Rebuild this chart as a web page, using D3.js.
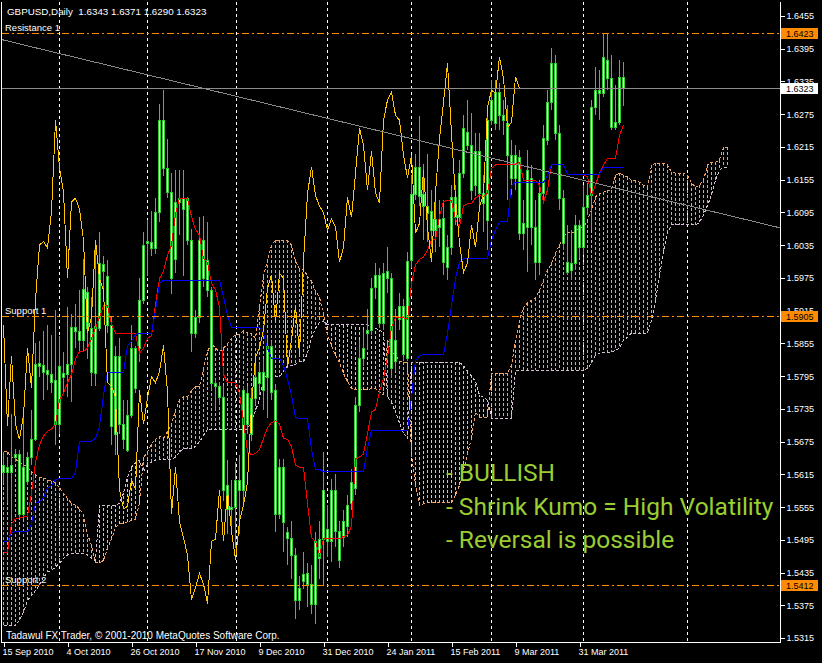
<!DOCTYPE html>
<html><head><meta charset="utf-8">
<script src="https://cdn.jsdelivr.net/npm/d3@7"></script>
<style>html,body{margin:0;padding:0;background:#000;overflow:hidden}</style>
</head><body>
<svg id="c" width="822" height="663"></svg>
<script>
// ---------------- DATA (GBPUSD Daily) ----------------
const openP=[1.5619,1.5628,1.5619,1.5646,1.5653,1.5542,1.5603,1.5646,1.5679,1.5814,
1.5816,1.5806,1.5798,1.5787,1.5707,1.5800,1.5798,1.5817,1.5885,1.5878,
1.5862,1.5950,1.5883,1.5800,1.5883,1.6001,1.5978,1.5889,1.5689,1.5832,
1.5707,1.5660,1.5723,1.5846,1.5846,1.5935,1.6039,1.6041,1.6030,1.6096,
1.6264,1.6177,1.6133,1.6010,1.6114,1.6121,1.6121,1.6044,1.5874,1.5903,
1.6044,1.6007,1.5953,1.5783,1.5776,1.5757,1.5596,1.5552,1.5556,1.5605,
1.5587,1.5764,1.5689,1.5755,1.5803,1.5769,1.5794,1.5851,1.5769,1.5542,
1.5628,1.5510,1.5499,1.5467,1.5385,1.5419,1.5435,1.5414,1.5378,1.5462,
1.5496,1.5514,1.5492,1.5586,1.5511,1.5501,1.5520,1.5563,1.5590,1.5742,
1.5829,1.5874,1.5879,1.5959,1.5981,1.5893,1.5988,1.5974,1.5822,1.5899,
1.5924,1.5829,1.6008,1.6129,1.6179,1.6129,1.6107,1.6097,1.6063,1.6083,
1.6084,1.5995,1.6031,1.6123,1.6086,1.6167,1.6242,1.6218,1.6145,1.6207,
1.6131,1.6081,1.6264,1.6258,1.6315,1.6273,1.6258,1.6200,1.6158,1.6196,
1.6057,1.6068,1.6158,1.6068,1.6004,1.6130,1.6227,1.6297,1.6368,1.6240,
1.6121,1.6004,1.5989,1.6002,1.6072,1.6031,1.6105,1.6127,1.6288,1.6319,
1.6313,1.6374,1.6341,1.6251,1.6260,1.6343];
const highP=[1.5656,1.5646,1.5726,1.5662,1.5660,1.5726,1.5656,1.5732,1.5855,1.5859,
1.5878,1.5889,1.5870,1.5917,1.5868,1.5840,1.5921,1.5908,1.5927,1.5953,
1.6010,1.5959,1.5940,1.6041,1.6060,1.6016,1.6007,1.5903,1.5851,1.5864,
1.5751,1.5751,1.5889,1.5851,1.5974,1.6060,1.6082,1.6098,1.6121,1.6294,
1.6319,1.6230,1.6167,1.6173,1.6173,1.6173,1.6124,1.6064,1.5916,1.6087,
1.6088,1.6078,1.5959,1.5789,1.5785,1.5776,1.5641,1.5605,1.5637,1.5651,
1.5776,1.5776,1.5769,1.5814,1.5817,1.5826,1.5864,1.5859,1.5780,1.5643,
1.5643,1.5518,1.5530,1.5480,1.5428,1.5473,1.5453,1.5448,1.5510,1.5530,
1.5656,1.5558,1.5606,1.5615,1.5529,1.5549,1.5577,1.5624,1.5756,1.5861,
1.5879,1.5918,1.5974,1.6003,1.5993,1.6003,1.6031,1.5984,1.5918,1.5947,
1.5936,1.6022,1.6164,1.6202,1.6272,1.6183,1.6202,1.6136,1.6126,1.6117,
1.6117,1.6053,1.6145,1.6145,1.6191,1.6273,1.6301,1.6277,1.6240,1.6240,
1.6164,1.6282,1.6337,1.6337,1.6332,1.6301,1.6292,1.6227,1.6218,1.6209,
1.6117,1.6209,1.6182,1.6117,1.6154,1.6255,1.6319,1.6396,1.6383,1.6255,
1.6136,1.6072,1.6062,1.6090,1.6081,1.6145,1.6149,1.6301,1.6361,1.6356,
1.6423,1.6423,1.6383,1.6328,1.6374,1.6371];
const lowP=[1.5599,1.5562,1.5530,1.5637,1.5537,1.5533,1.5596,1.5632,1.5676,1.5794,
1.5751,1.5769,1.5764,1.5669,1.5689,1.5764,1.5757,1.5747,1.5846,1.5840,
1.5840,1.5826,1.5776,1.5776,1.5878,1.5953,1.5874,1.5669,1.5651,1.5689,
1.5662,1.5656,1.5719,1.5764,1.5821,1.5927,1.5978,1.6016,1.6019,1.6078,
1.6162,1.6121,1.5946,1.5984,1.6053,1.5978,1.6035,1.5840,1.5864,1.5893,
1.5959,1.5940,1.5769,1.5732,1.5742,1.5567,1.5505,1.5510,1.5480,1.5505,
1.5562,1.5689,1.5676,1.5742,1.5760,1.5732,1.5719,1.5751,1.5510,1.5533,
1.5473,1.5448,1.5423,1.5349,1.5367,1.5405,1.5372,1.5359,1.5340,1.5423,
1.5410,1.5463,1.5454,1.5482,1.5444,1.5482,1.5501,1.5549,1.5577,1.5729,
1.5813,1.5842,1.5870,1.5936,1.5884,1.5879,1.5947,1.5791,1.5804,1.5879,
1.5823,1.5823,1.5993,1.6117,1.6107,1.6045,1.6041,1.6031,1.6022,1.6031,
1.5980,1.5971,1.6017,1.6072,1.6077,1.6158,1.6209,1.6117,1.6126,1.6107,
1.6060,1.6026,1.6255,1.6246,1.6246,1.6236,1.6117,1.6127,1.6136,1.6044,
1.6026,1.5985,1.6035,1.5971,1.5980,1.6117,1.6218,1.6282,1.6227,1.6099,
1.6026,1.5980,1.5971,1.5989,1.6011,1.6017,1.6090,1.6062,1.6273,1.6264,
1.6306,1.6319,1.6246,1.6246,1.6255,1.6290];
const closeP=[1.5632,1.5619,1.5632,1.5653,1.5542,1.5628,1.5646,1.5679,1.5817,1.5819,
1.5803,1.5798,1.5785,1.5707,1.5814,1.5794,1.5817,1.5885,1.5878,1.5862,
1.5955,1.5883,1.5802,1.5887,1.6003,1.5987,1.5889,1.5703,1.5832,1.5707,
1.5679,1.5723,1.5846,1.5774,1.5935,1.6035,1.6042,1.6030,1.6096,1.6264,
1.6177,1.6133,1.5974,1.6114,1.6121,1.6101,1.6044,1.5874,1.5903,1.6044,
1.5974,1.5953,1.5783,1.5776,1.5757,1.5587,1.5552,1.5556,1.5605,1.5587,
1.5769,1.5707,1.5755,1.5794,1.5783,1.5803,1.5851,1.5766,1.5542,1.5628,
1.5528,1.5499,1.5467,1.5385,1.5407,1.5433,1.5414,1.5378,1.5492,1.5496,
1.5587,1.5492,1.5586,1.5511,1.5458,1.5529,1.5558,1.5601,1.5742,1.5829,
1.5847,1.5879,1.5956,1.5981,1.5893,1.5984,1.5974,1.5810,1.5861,1.5924,
1.5836,1.6006,1.6129,1.6179,1.6126,1.6107,1.6094,1.6063,1.6083,1.6069,
1.6004,1.6031,1.6123,1.6086,1.6167,1.6249,1.6218,1.6136,1.6207,1.6131,
1.6112,1.6264,1.6301,1.6315,1.6273,1.6264,1.6200,1.6158,1.6200,1.6057,
1.6075,1.6172,1.6068,1.6004,1.6130,1.6231,1.6297,1.6368,1.6240,1.6121,
1.6039,1.5985,1.6002,1.6072,1.6031,1.6105,1.6127,1.6288,1.6319,1.6313,
1.6380,1.6341,1.6251,1.6260,1.6343,1.6323];
// Ichimoku Tenkan-sen (red) and Kijun-sen (blue), one value per bar
const tenkan=[1.5471,1.5471,1.5524,1.5533,1.5535,1.5537,1.5539,1.5580,1.5637,1.5669,
1.5685,1.5694,1.5698,1.5707,1.5751,1.5764,1.5783,1.5798,1.5826,1.5840,
1.5840,1.5846,1.5864,1.5883,1.5903,1.5925,1.5925,1.5889,1.5874,1.5874,
1.5874,1.5874,1.5874,1.5874,1.5837,1.5846,1.5864,1.5869,1.5927,1.5974,
1.5987,1.6016,1.6035,1.6092,1.6121,1.6121,1.6121,1.6087,1.6064,1.6053,
1.6010,1.6003,1.5965,1.5953,1.5921,1.5798,1.5783,1.5783,1.5783,1.5764,
1.5713,1.5656,1.5651,1.5653,1.5660,1.5681,1.5700,1.5710,1.5713,1.5707,
1.5681,1.5679,1.5666,1.5632,1.5628,1.5628,1.5562,1.5499,1.5492,1.5467,
1.5497,1.5497,1.5497,1.5497,1.5497,1.5501,1.5504,1.5520,1.5643,1.5647,
1.5652,1.5690,1.5729,1.5734,1.5766,1.5791,1.5829,1.5884,1.5902,1.5902,
1.5902,1.5899,1.5965,1.5999,1.6009,1.6013,1.6026,1.6045,1.6045,1.6088,
1.6115,1.6117,1.6117,1.6083,1.6069,1.6107,1.6111,1.6111,1.6122,1.6126,
1.6124,1.6130,1.6176,1.6182,1.6183,1.6183,1.6183,1.6183,1.6183,1.6187,
1.6154,1.6154,1.6154,1.6154,1.6145,1.6114,1.6136,1.6182,1.6183,1.6183,
1.6183,1.6165,1.6165,1.6165,1.6165,1.6165,1.6160,1.6127,1.6145,1.6167,
1.6182,1.6194,1.6194,1.6194,1.6236,1.6255];
const kijun=[1.5492,1.5492,1.5508,1.5510,1.5510,1.5510,1.5510,1.5524,1.5562,1.5565,
1.5571,1.5590,1.5594,1.5605,1.5607,1.5607,1.5607,1.5607,1.5619,1.5675,
1.5676,1.5676,1.5676,1.5681,1.5703,1.5760,1.5802,1.5802,1.5802,1.5802,
1.5802,1.5851,1.5859,1.5871,1.5874,1.5874,1.5874,1.5874,1.5916,1.5965,
1.5971,1.5971,1.5971,1.5971,1.5971,1.5971,1.5971,1.5971,1.5971,1.5971,
1.5971,1.5971,1.5971,1.5971,1.5971,1.5940,1.5906,1.5885,1.5885,1.5885,
1.5885,1.5885,1.5885,1.5885,1.5885,1.5874,1.5846,1.5828,1.5828,1.5828,
1.5814,1.5789,1.5760,1.5719,1.5717,1.5717,1.5717,1.5660,1.5624,1.5624,
1.5620,1.5620,1.5620,1.5620,1.5620,1.5620,1.5620,1.5620,1.5620,1.5620,
1.5620,1.5662,1.5696,1.5696,1.5696,1.5696,1.5696,1.5696,1.5696,1.5696,
1.5696,1.5696,1.5756,1.5823,1.5833,1.5834,1.5834,1.5834,1.5834,1.5834,
1.5834,1.5874,1.5924,1.5974,1.6003,1.6011,1.6011,1.6011,1.6011,1.6011,
1.6011,1.6011,1.6044,1.6062,1.6077,1.6079,1.6079,1.6145,1.6150,1.6150,
1.6150,1.6150,1.6150,1.6150,1.6150,1.6150,1.6163,1.6183,1.6183,1.6183,
1.6183,1.6165,1.6165,1.6165,1.6165,1.6165,1.6165,1.6165,1.6165,1.6165,
1.6178,1.6178,1.6178,1.6178,1.6178,1.6178];
// Senkou Span A / B (already plotted 26 bars ahead: 182 positions)
const spanA=[1.5656,1.5656,1.5646,1.5643,1.5637,1.5633,1.5628,1.5619,1.5614,1.5609,
1.5609,1.5605,1.5603,1.5599,1.5590,1.5580,1.5571,1.5562,1.5558,1.5552,
1.5542,1.5505,1.5485,1.5453,1.5453,1.5457,1.5480,1.5496,1.5518,1.5524,
1.5524,1.5528,1.5530,1.5533,1.5562,1.5646,1.5656,1.5671,1.5679,1.5685,
1.5681,1.5694,1.5707,1.5732,1.5751,1.5757,1.5757,1.5769,1.5776,1.5776,
1.5808,1.5840,1.5855,1.5846,1.5840,1.5846,1.5855,1.5864,1.5871,1.5871,
1.5878,1.5874,1.5874,1.5864,1.5921,1.5978,1.6007,1.6035,1.6044,1.6044,
1.6044,1.6044,1.6035,1.6007,1.5991,1.5991,1.5978,1.5969,1.5950,1.5940,
1.5908,1.5870,1.5851,1.5833,1.5820,1.5800,1.5785,1.5772,1.5770,1.5770,
1.5770,1.5770,1.5772,1.5772,1.5766,1.5761,1.5861,1.5842,1.5833,1.5823,
1.5820,1.5820,1.5652,1.5595,1.5558,1.5561,1.5563,1.5563,1.5563,1.5563,
1.5563,1.5563,1.5563,1.5577,1.5595,1.5624,1.5652,1.5681,1.5729,1.5720,
1.5720,1.5720,1.5800,1.5800,1.5800,1.5800,1.5800,1.5815,1.5861,1.5897,
1.5921,1.5929,1.5934,1.5938,1.5952,1.5971,1.5989,1.6002,1.6020,1.6035,
1.6050,1.6059,1.6059,1.6059,1.6068,1.6068,1.6081,1.6099,1.6123,1.6130,
1.6132,1.6136,1.6136,1.6163,1.6167,1.6163,1.6160,1.6154,1.6154,1.6150,
1.6145,1.6141,1.6182,1.6185,1.6185,1.6185,1.6182,1.6169,1.6167,1.6167,
1.6167,1.6163,1.6149,1.6141,1.6145,1.6154,1.6182,1.6187,1.6187,1.6191,
1.6214,1.6214];
const spanB=[1.5338,1.5338,1.5338,1.5338,1.5348,1.5362,1.5384,1.5393,1.5402,1.5412,
1.5426,1.5436,1.5439,1.5445,1.5452,1.5461,1.5467,1.5470,1.5470,1.5470,
1.5470,1.5467,1.5461,1.5457,1.5558,1.5558,1.5558,1.5558,1.5558,1.5562,
1.5580,1.5609,1.5628,1.5637,1.5641,1.5619,1.5633,1.5637,1.5641,1.5643,
1.5643,1.5643,1.5643,1.5646,1.5656,1.5662,1.5662,1.5662,1.5666,1.5675,
1.5685,1.5698,1.5698,1.5698,1.5698,1.5698,1.5698,1.5698,1.5698,1.5698,
1.5698,1.5698,1.5713,1.5732,1.5751,1.5794,1.5794,1.5794,1.5794,1.5794,
1.5803,1.5814,1.5814,1.5817,1.5821,1.5821,1.5837,1.5864,1.5883,1.5893,
1.5895,1.5889,1.5889,1.5889,1.5889,1.5889,1.5889,1.5889,1.5889,1.5889,
1.5889,1.5889,1.5885,1.5883,1.5879,1.5876,1.5757,1.5747,1.5729,1.5709,
1.5690,1.5681,1.5820,1.5820,1.5820,1.5820,1.5820,1.5820,1.5820,1.5820,
1.5820,1.5820,1.5820,1.5820,1.5820,1.5814,1.5804,1.5795,1.5785,1.5760,
1.5756,1.5751,1.5718,1.5718,1.5718,1.5718,1.5718,1.5718,1.5806,1.5806,
1.5806,1.5806,1.5806,1.5806,1.5806,1.5806,1.5806,1.5806,1.5806,1.5806,
1.5806,1.5806,1.5806,1.5806,1.5806,1.5806,1.5809,1.5819,1.5833,1.5837,
1.5839,1.5839,1.5839,1.5842,1.5846,1.5861,1.5866,1.5874,1.5874,1.5874,
1.5874,1.5874,1.5897,1.5934,1.5980,1.6020,1.6057,1.6072,1.6072,1.6072,
1.6072,1.6072,1.6072,1.6072,1.6077,1.6090,1.6108,1.6127,1.6154,1.6172,
1.6178,1.6178];
const chikouShift=26;
const priceTicks=[1.6455,1.6395,1.6335,1.6275,1.6215,1.6155,1.6095,1.6035,1.5975,1.5915,
1.5855,1.5795,1.5735,1.5675,1.5615,1.5555,1.5495,1.5435,1.5375,1.5315];
const dateLabels=["15 Sep 2010","4 Oct 2010","26 Oct 2010","17 Nov 2010","9 Dec 2010",
"31 Dec 2010","24 Jan 2011","15 Feb 2011","9 Mar 2011","31 Mar 2011"];
const dateBars=[0,16,32,48,64,80,96,112,128,144];
const gridBars=[14,36,58.25,81,102,122,145,171];
const hLineNames=["Resistance 1","Support 1","Support 2"];
const hLinePrices=[1.6423,1.5905,1.5412];
const lastPrice=1.6323;
const trendBars=[0,181];
const trendPrices=[1.6411,1.6090];
const header="GBPUSD,Daily  1.6343 1.6371 1.6290 1.6323";
const copyright="Tadawul FX Trader, \u00A9 2001-2010 MetaQuotes Software Corp.";
const notes=["- BULLISH","- Shrink Kumo = High Volatility","- Reversal is possible"];

// ---------------- DRAWING ----------------
const svg=d3.select("#c");
const PLOT_R=780, PLOT_B=642;
const xs=d3.scaleLinear().domain([0,181]).range([3.5,727.5]);
const ys=d3.scaleLinear().domain([1.5315,1.6455]).range([638,16]);
const small="'Liberation Sans', Arial, sans-serif";

svg.append("rect").attr("width",822).attr("height",663).attr("fill","#000");

// grid
svg.append("g").selectAll("line").data(gridBars).join("line")
  .attr("x1",d=>Math.round(xs(d)-0.5)+0.5).attr("x2",d=>Math.round(xs(d)-0.5)+0.5)
  .attr("y1",2).attr("y2",PLOT_B)
  .attr("stroke","#ffffff").attr("stroke-dasharray","3,3").attr("shape-rendering","crispEdges");

// cloud hatch
const cloud=svg.append("g").attr("shape-rendering","crispEdges");
cloud.selectAll("line").data(d3.range(spanA.length)).join("line")
  .attr("x1",i=>xs(i)).attr("x2",i=>xs(i))
  .attr("y1",i=>ys(spanA[i])).attr("y2",i=>ys(spanB[i]))
  .attr("stroke",i=>spanA[i]>=spanB[i]?"#f4a460":"#d8bfd8")
  .attr("stroke-dasharray","3,2");
const lineGen=(arr,off)=>d3.line().x((d,i)=>xs(i+(off||0))).y(d=>ys(d))(arr);
cloud.append("path").attr("d",lineGen(spanA)).attr("fill","none")
  .attr("stroke","#f4a460").attr("stroke-dasharray","3,2");
cloud.append("path").attr("d",lineGen(spanB)).attr("fill","none")
  .attr("stroke","#d8bfd8").attr("stroke-dasharray","3,2");

// candles
const cg=svg.append("g").attr("shape-rendering","crispEdges");
const bars=d3.range(closeP.length);
cg.selectAll("line").data(bars).join("line")
  .attr("x1",i=>xs(i)).attr("x2",i=>xs(i))
  .attr("y1",i=>ys(highP[i])).attr("y2",i=>ys(lowP[i]))
  .attr("stroke","#32cd32");
cg.selectAll("path").data(bars).join("path")
  .attr("d",i=>{const x0=xs(i)-1,x1=xs(i)+1;
     const y0=Math.round(ys(Math.max(openP[i],closeP[i])))+0.5,
           y1=Math.round(ys(Math.min(openP[i],closeP[i])))+0.5;
     return `M${x0},${y0}H${x1}V${y1}H${x0}Z`;})
  .attr("fill","#e6ffe6").attr("stroke","#32cd32");

// Ichimoku lines
const ig=svg.append("g").attr("fill","none").attr("shape-rendering","crispEdges");
ig.append("path").attr("d",lineGen(tenkan)).attr("stroke","#ff0000");
ig.append("path").attr("d",lineGen(kijun)).attr("stroke","#0000ff");
ig.append("path").attr("d",d3.line().x((d,i)=>xs(i)).y(d=>ys(d))(closeP.slice(chikouShift)))
  .attr("stroke","#ffc800");

// trend line (ray to the right edge)
{
  const xa=xs(trendBars[0]),ya=ys(trendPrices[0]),xb=xs(trendBars[1]),yb=ys(trendPrices[1]);
  const k=(yb-ya)/(xb-xa);
  svg.append("line").attr("x1",2).attr("y1",ya+(2-xa)*k).attr("x2",PLOT_R).attr("y2",ya+(PLOT_R-xa)*k)
    .attr("stroke","#888888").attr("shape-rendering","crispEdges");
}
// last price line
svg.append("line").attr("x1",2).attr("x2",PLOT_R).attr("y1",Math.round(ys(lastPrice))+0.5).attr("y2",Math.round(ys(lastPrice))+0.5)
  .attr("stroke","#8c8c8c").attr("shape-rendering","crispEdges");

// support / resistance lines
const hg=svg.append("g");
hLinePrices.forEach((p,k)=>{
  const y=Math.round(ys(p))+0.5;
  hg.append("line").attr("x1",2).attr("x2",PLOT_R).attr("y1",y).attr("y2",y)
    .attr("stroke","#ff8c00").attr("stroke-dasharray","7,3,2,3").attr("shape-rendering","crispEdges");
  hg.append("text").attr("x",5).attr("y",y-2.5).text(hLineNames[k])
    .attr("fill","#ffffff").attr("font-family",small).attr("font-size",9.5);
});

// frame
svg.append("path").attr("d",`M1.5,2V${PLOT_B+0.5}H${PLOT_R+0.5}V2`).attr("fill","none")
  .attr("stroke","#ffffff").attr("shape-rendering","crispEdges");

// price axis
const ya=svg.append("g").attr("transform",`translate(${PLOT_R+0.5},0)`)
  .call(d3.axisRight(ys).tickValues(priceTicks).tickSize(4).tickPadding(2).tickFormat(d3.format(".4f")));
ya.select(".domain").remove();
ya.selectAll(".tick line").attr("stroke","#ffffff").attr("shape-rendering","crispEdges");
ya.selectAll(".tick text").attr("fill","#ffffff").attr("font-family",small).attr("font-size",9).attr("dy","0.33em");

// time axis
const xa=svg.append("g").attr("transform",`translate(0,${PLOT_B+0.5})`)
  .call(d3.axisBottom(xs).tickValues(dateBars).tickSize(4).tickFormat((d,i)=>dateLabels[i]));
xa.select(".domain").remove();
xa.selectAll(".tick line").attr("stroke","#ffffff").attr("shape-rendering","crispEdges");
xa.selectAll(".tick text").attr("fill","#ffffff").attr("font-family",small).attr("font-size",9)
  .attr("text-anchor","start").attr("x",-1.5).attr("y",12.5).attr("dy",null);

// price labels on the axis (drawn over the neighbouring tick labels, as in the terminal)
function axisBox(p,fill,txt){
  const y=Math.round(ys(p))+0.5;
  svg.append("rect").attr("x",781).attr("y",y-5.5).attr("width",37).attr("height",11).attr("fill",fill);
  svg.append("text").attr("x",786).attr("y",y+3.5).text(d3.format(".4f")(p))
    .attr("fill",txt).attr("font-family",small).attr("font-size",9);
}
hLinePrices.forEach(p=>axisBox(p,"#ff8c00","#000000"));
axisBox(lastPrice,"#ffffff","#000000");

// header & copyright
svg.append("text").attr("x",7).attr("y",14.5).text(header)
  .attr("fill","#ffffff").attr("font-family",small).attr("font-size",9.8).attr("xml:space","preserve").style("white-space","pre");
svg.append("text").attr("x",6).attr("y",638.5).text(copyright)
  .attr("fill","#ffffff").attr("font-family",small).attr("font-size",10);

// annotation
svg.append("g").selectAll("text").data(notes).join("text")
  .attr("x",446).attr("y",(d,i)=>481+i*33.5).text(d=>d)
  .attr("fill","#9acd32").attr("font-family","Roboto, 'Noto Sans', sans-serif").attr("font-size",24.5);
</script>
</body></html>
